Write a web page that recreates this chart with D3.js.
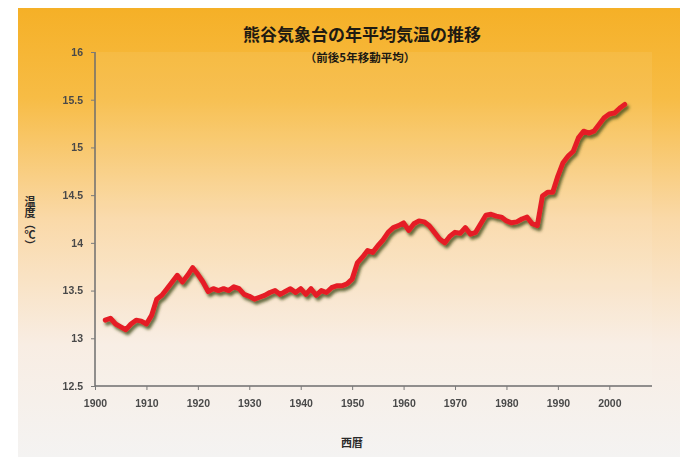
<!DOCTYPE html>
<html><head><meta charset="utf-8">
<script src="https://cdn.jsdelivr.net/npm/d3@7"></script>
<style>
html,body{margin:0;padding:0;background:#fff;}
svg{display:block;}
</style></head>
<body>
<script>
const title = "熊谷気象台の年平均気温の推移";
const subtitle = "（前後5年移動平均）";
const yTitle = "温度（℃）";
const xTitle = "西暦";
const startYear = 1902;
const temps = [
 13.19,13.21,13.15,13.12,13.09,13.15,13.19,13.18,13.15,13.24,
 13.41,13.45,13.52,13.59,13.66,13.59,13.66,13.74,13.67,13.59,
 13.49,13.52,13.50,13.52,13.50,13.54,13.52,13.46,13.44,13.41,
 13.43,13.45,13.48,13.50,13.46,13.49,13.52,13.48,13.52,13.46,
 13.52,13.45,13.50,13.48,13.53,13.55,13.55,13.57,13.62,13.79,
 13.85,13.92,13.90,13.97,14.03,14.11,14.16,14.18,14.21,14.13,
 14.20,14.23,14.22,14.18,14.11,14.04,14.00,14.07,14.11,14.10,
 14.16,14.09,14.11,14.20,14.29,14.30,14.28,14.27,14.23,14.21,
 14.22,14.25,14.27,14.20,14.18,14.49,14.53,14.53,14.70,14.84,
 14.91,14.96,15.10,15.17,15.15,15.17,15.24,15.31,15.35,15.36,
 15.41,15.45
];
const yTicks = [12.5,13,13.5,14,14.5,15,15.5,16];
const xTicks = [1900,1910,1920,1930,1940,1950,1960,1970,1980,1990,2000];

const data = temps.map((v,i)=>({year:startYear+i, v}));
const W=680,H=457;
const svg=d3.select("body").append("svg").attr("width",W).attr("height",H);
const defs=svg.append("defs");
const g1=defs.append("linearGradient").attr("id","bg").attr("x1",0).attr("y1",0).attr("x2",0).attr("y2",1);
g1.append("stop").attr("offset","0%").attr("stop-color","#F5B027");
g1.append("stop").attr("offset","20%").attr("stop-color","#F7BC45");
g1.append("stop").attr("offset","47%").attr("stop-color","#FAD9A8");
g1.append("stop").attr("offset","75%").attr("stop-color","#F8EDE3");
g1.append("stop").attr("offset","100%").attr("stop-color","#F4F3F2");
const f=defs.append("filter").attr("id","sh").attr("x","-10%").attr("y","-10%").attr("width","120%").attr("height","130%");
f.append("feDropShadow").attr("dx",2).attr("dy",3).attr("stdDeviation",1.6).attr("flood-color","#3c4a1a").attr("flood-opacity",0.8);
const fb=defs.append("filter").attr("id","soft");
fb.append("feGaussianBlur").attr("stdDeviation",0.35);

svg.append("rect").attr("x",18).attr("y",8).attr("width",W-18).attr("height",H-8).attr("fill","url(#bg)");

const m={l:95,r:652,t:52,b:386};
const x=d3.scaleLinear().domain([1900,2008.3]).range([m.l,m.r]);
const y=d3.scaleLinear().domain([12.5,16]).range([m.b,m.t]);

svg.append("rect").attr("x",m.l).attr("y",m.t).attr("width",m.r-m.l).attr("height",m.b-m.t)
  .attr("fill","#fff").attr("opacity",0.07);

const font="'Liberation Sans','DejaVu Sans',sans-serif";
const cjk="'Noto Sans CJK JP','Noto Sans CJK SC',sans-serif";

const gy=svg.append("g").attr("transform",`translate(${m.l},0)`)
  .call(d3.axisLeft(y).tickValues(yTicks).tickFormat(d=>d3.format("")(d)).tickSize(4).tickPadding(8));
const gx=svg.append("g").attr("transform",`translate(0,${m.b})`)
  .call(d3.axisBottom(x).tickValues(xTicks).tickFormat(d3.format("d")).tickSize(4).tickPadding(10));
[gy,gx].forEach(g=>{
  g.select(".domain").attr("stroke","#6e6e6e").attr("stroke-width",1.5);
  g.selectAll(".tick line").attr("stroke","#7a7a7a").attr("stroke-width",1);
  g.selectAll("text").attr("font-family",font).attr("font-size",10.5).attr("font-weight","bold")
   .attr("fill","#4a4a4a").attr("filter","url(#soft)");
});
gx.select(".domain").attr("d",`M${m.l},0H${m.r}`);
gy.select(".domain").attr("d",`M0,${m.t}V${m.b}`);

const line=d3.line().x(d=>x(d.year)).y(d=>y(d.v));
svg.append("path").datum(data).attr("d",line).attr("fill","none")
  .attr("stroke","#E51F25").attr("stroke-width",5).attr("stroke-linejoin","round")
  .attr("stroke-linecap","round").attr("filter","url(#sh)");

svg.append("text").attr("x",362).attr("y",41).attr("text-anchor","middle")
  .attr("font-family",cjk).attr("font-weight","bold").attr("font-size",17).attr("fill","#1e1a12")
  .text(title);
svg.append("text").attr("x",360).attr("y",62).attr("text-anchor","middle")
  .attr("font-family",cjk).attr("font-weight","bold").attr("font-size",11.5).attr("fill","#1e1a12")
  .text(subtitle);
svg.append("text").attr("x",30).attr("y",196)
  .attr("font-family",cjk).attr("font-weight","bold").attr("font-size",11).attr("fill","#2a2a2a")
  .style("writing-mode","vertical-rl").text(yTitle);
svg.append("text").attr("x",352).attr("y",447).attr("text-anchor","middle")
  .attr("font-family",cjk).attr("font-weight","bold").attr("font-size",11).attr("fill","#2a2a2a")
  .text(xTitle);
</script>
</body></html>
